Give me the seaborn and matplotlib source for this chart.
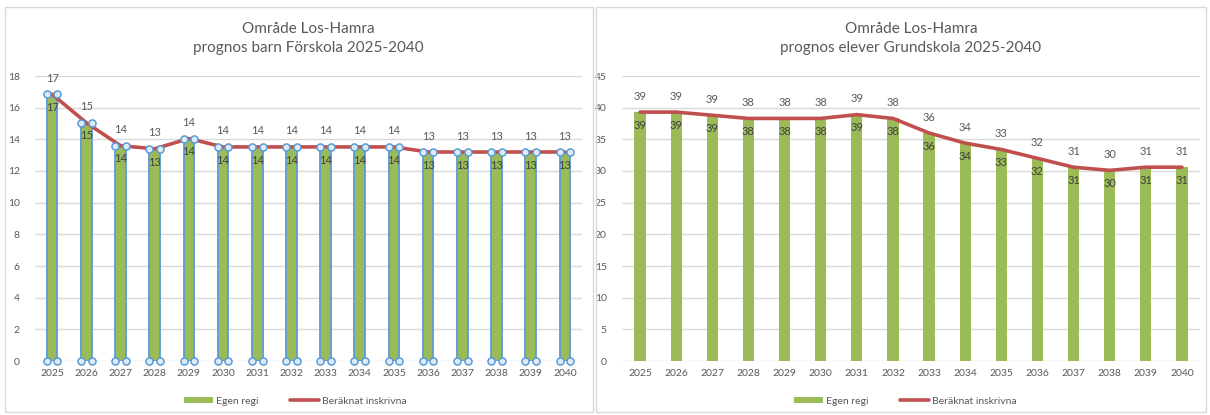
import numpy as np
import pandas as pd
import matplotlib
matplotlib.use("Agg")
import matplotlib.pyplot as plt
from matplotlib.patches import Patch, Rectangle
from matplotlib.lines import Line2D
import seaborn as sns

years = [str(y) for y in range(2025, 2041)]

# Förskola (left)
forskola_egen = [16.85, 15.05, 13.6, 13.4, 14.05, 13.52, 13.52, 13.52, 13.52, 13.52, 13.52,
                 13.2, 13.2, 13.2, 13.2, 13.2]
forskola_inskr = [16.85, 15.05, 13.6, 13.4, 14.05, 13.52, 13.52, 13.52, 13.52, 13.52, 13.52,
                  13.2, 13.2, 13.2, 13.2, 13.2]

# Grundskola (right)
grund_egen = [39.3, 39.3, 38.8, 38.3, 38.3, 38.3, 38.9, 38.3, 36.0, 34.4, 33.4,
              32.0, 30.6, 30.1, 30.6, 30.6]
grund_inskr = [39.3, 39.3, 38.8, 38.3, 38.3, 38.3, 38.9, 38.3, 36.0, 34.4, 33.4,
               32.0, 30.6, 30.1, 30.6, 30.6]

titles = ["Område Los-Hamra\nprognos barn Förskola 2025-2040",
          "Område Los-Hamra\nprognos elever Grundskola 2025-2040"]
ylims = [(0, 18, 2), (0, 45, 5)]

GREEN = "#9BBB59"
RED = "#C0504D"
BLUE = "#5B9BD5"
GRID = "#D9D9D9"
TXT = "#595959"

sns.set_theme(style="white")
plt.rcParams["font.family"] = ["Lato", "DejaVu Sans"]

fig = plt.figure(figsize=(12.1, 4.15), dpi=100)

# panel frames
for x0, w in [(5, 588), (596, 610)]:
    fig.add_artist(Rectangle((x0 / 1210, 3 / 415), w / 1210, 405 / 415,
                             transform=fig.transFigure, fill=False,
                             edgecolor=GRID, linewidth=1))

ax_l = fig.add_axes([35 / 1210, 1 - 361 / 415, 547 / 1210, 285 / 415])
ax_r = fig.add_axes([622 / 1210, 1 - 361 / 415, 578 / 1210, 285 / 415])


def draw(ax, egen, inskr, title, lim, selected, panel_cx):
    df = pd.DataFrame({"year": years, "egen": egen})
    w = 0.31
    sns.barplot(data=df, x="year", y="egen", color=GREEN, saturation=1,
                width=w, ax=ax,
                edgecolor=BLUE if selected else "none",
                linewidth=1.3 if selected else 0)
    idx = np.arange(len(years))
    sns.lineplot(x=idx, y=inskr, color=RED, linewidth=2.6, ax=ax, zorder=4)

    if selected:
        for dx in (-w / 2, w / 2):
            ax.scatter(idx + dx, egen, s=26, facecolor="#DDEBF7",
                       edgecolor=BLUE, linewidth=1.1, zorder=5, clip_on=False)
            ax.scatter(idx + dx, np.zeros(len(idx)), s=26, facecolor="#DDEBF7",
                       edgecolor=BLUE, linewidth=1.1, zorder=5, clip_on=False)

    for i, (b, l) in enumerate(zip(egen, inskr)):
        ax.annotate(f"{int(np.floor(l + 0.5))}", (i, l), xytext=(0, 11.5),
                    textcoords="offset points", ha="center", va="center",
                    fontsize=8, color=TXT, zorder=6)
        ax.annotate(f"{int(np.floor(b + 0.5))}", (i, b), xytext=(0, -9.5),
                    textcoords="offset points", ha="center", va="center",
                    fontsize=8, color="#404040", zorder=6)

    lo, hi, step = lim
    ax.set_ylim(lo, hi)
    ax.set_yticks(np.arange(lo, hi + step, step))
    ax.set_xlim(-0.5, len(years) - 0.5)
    ax.grid(axis="y", color=GRID, linewidth=1)
    ax.set_axisbelow(True)
    for s in ax.spines.values():
        s.set_visible(False)
    ax.tick_params(axis="both", length=0, labelsize=7.5, colors=TXT, pad=6)
    ax.tick_params(axis="y", pad=11)
    ax.set_xlabel("")
    ax.set_ylabel("")
    ax.set_title(title, fontsize=11, color=TXT, pad=17, linespacing=1.45)

    handles = [Patch(facecolor=GREEN, edgecolor="none"),
               Line2D([0], [0], color=RED, linewidth=2.6)]
    fig.legend(handles, ["Egen regi", "Beräknat inskrivna"],
               loc="center", bbox_to_anchor=(panel_cx, 14 / 415), ncol=2,
               frameon=False, fontsize=7.5, labelcolor=TXT,
               handlelength=2.8, handleheight=0.5, columnspacing=3,
               handletextpad=0.3)


draw(ax_l, forskola_egen, forskola_inskr, titles[0], ylims[0], True, 295 / 1210)
draw(ax_r, grund_egen, grund_inskr, titles[1], ylims[1], False, 905 / 1210)

fig.savefig("out.png", dpi=100)
